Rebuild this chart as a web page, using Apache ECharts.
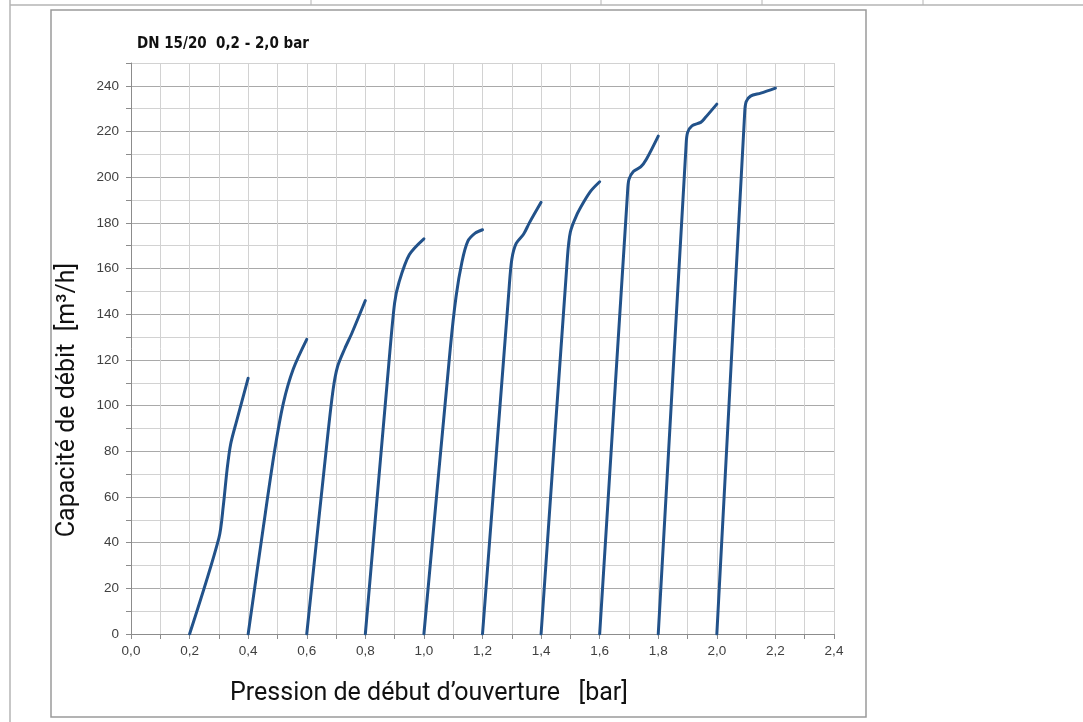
<!DOCTYPE html>
<html>
<head>
<meta charset="utf-8">
<script src="https://cdn.jsdelivr.net/npm/echarts@6/dist/echarts.min.js"></script>
<style>
  html, body { margin: 0; padding: 0; background: #fff; }
  #chart { width: 1083px; height: 722px; }
</style>
</head>
<body>
<div id="chart"></div>
<script>
// Opening pressure [bar] vs. flow capacity [m³/h], one curve per set pressure
const curve02 = [[0.2, 0], [0.3, 42], [0.315, 56], [0.328, 72], [0.34, 83], [0.36, 93], [0.4, 112]];
const curve04 = [[0.4, 0], [0.452, 47], [0.49, 80], [0.52, 101], [0.554, 116], [0.6, 129]];
const curve06 = [[0.6, 0], [0.67, 85], [0.69, 107], [0.705, 117], [0.73, 125], [0.755, 132], [0.8, 146]];
const curve08 = [[0.8, 0], [0.88, 118], [0.9, 145], [0.915, 154], [0.95, 166], [1.0, 173]];
const curve10 = [[1.0, 0], [1.09, 125], [1.11, 148], [1.13, 163], [1.15, 172], [1.175, 175.5], [1.2, 177]];
const curve12 = [[1.2, 0], [1.29, 150], [1.3, 164], [1.315, 171], [1.34, 175], [1.36, 180], [1.4, 189]];
const curve14 = [[1.4, 0], [1.49, 165], [1.5, 176], [1.52, 183], [1.545, 189], [1.57, 194], [1.6, 198]];
const curve16 = [[1.6, 0], [1.695, 193], [1.7, 199], [1.715, 202.5], [1.74, 204.5], [1.76, 208], [1.8, 218]];
const curve18 = [[1.8, 0], [1.895, 214], [1.9, 219.5], [1.915, 222.5], [1.945, 224], [1.96, 226], [2.0, 232]];
const curve20 = [[2.0, 0], [2.095, 228], [2.1, 233], [2.115, 235.5], [2.15, 236.8], [2.2, 239]];

const curves = [curve02, curve04, curve06, curve08, curve10, curve12, curve14, curve16, curve18, curve20];

const chartTitle = 'DN 15/20  0,2 - 2,0 bar';
const xTitle = 'Pression de début d\u2019ouverture   [bar]';
const yTitle = 'Capacité de débit  [m³/h]';

const xMin = 0, xMax = 2.4, xStep = 0.1;
const yMin = 0, yMax = 250, yStep = 10;

const lineColor = '#22528a';
const labelFont = { fontFamily: 'Liberation Sans, Arial, sans-serif', fontSize: 13.5, color: '#404040' };

const chart = echarts.init(document.getElementById('chart'), null, { renderer: 'canvas' });

chart.setOption({
  animation: false,
  backgroundColor: '#ffffff',
  grid: { left: 131, right: 249, top: 63, bottom: 88, containLabel: false },
  xAxis: {
    type: 'value',
    min: xMin, max: xMax, interval: xStep,
    axisLine: { show: true, lineStyle: { color: '#8c8c8c', width: 1 } },
    axisTick: { show: true, length: 5, lineStyle: { color: '#8c8c8c' } },
    axisLabel: Object.assign({}, labelFont, {
      margin: 10,
      formatter: v => {
        const k = Math.round(v * 10);
        return k % 2 === 0 ? (k / 10).toFixed(1).replace('.', ',') : '';
      }
    }),
    splitLine: { show: true, lineStyle: { color: '#d2d2d2', width: 1 } }
  },
  yAxis: {
    type: 'value',
    min: yMin, max: yMax, interval: yStep,
    axisLine: { show: true, lineStyle: { color: '#8c8c8c', width: 1 } },
    axisTick: { show: true, length: 5, lineStyle: { color: '#8c8c8c' } },
    axisLabel: Object.assign({}, labelFont, {
      margin: 12,
      formatter: v => (Math.round(v) % 20 === 0 ? String(Math.round(v)) : '')
    }),
    splitLine: { show: true, lineStyle: { color: ['#a9a9a9', '#d2d2d2'], width: 1 } }
  },
  series: curves.map((c, i) => ({
    type: 'line',
    name: 'c' + i,
    data: c,
    smooth: 0.3,
    showSymbol: false,
    symbol: 'none',
    lineStyle: { color: lineColor, width: 3, cap: 'round', join: 'round' },
    z: 5
  })),
  graphic: [
    // page table rules along the top and left
    { type: 'line', shape: { x1: 10, y1: 5, x2: 1083, y2: 5 }, style: { stroke: '#b4b4b4', lineWidth: 1.5 }, silent: true },
    { type: 'line', shape: { x1: 10, y1: 0, x2: 10, y2: 722 }, style: { stroke: '#b4b4b4', lineWidth: 1.5 }, silent: true },
    { type: 'line', shape: { x1: 311, y1: 0, x2: 311, y2: 5 }, style: { stroke: '#b4b4b4', lineWidth: 1 }, silent: true },
    { type: 'line', shape: { x1: 601, y1: 0, x2: 601, y2: 5 }, style: { stroke: '#b4b4b4', lineWidth: 1 }, silent: true },
    { type: 'line', shape: { x1: 762, y1: 0, x2: 762, y2: 5 }, style: { stroke: '#b4b4b4', lineWidth: 1 }, silent: true },
    { type: 'line', shape: { x1: 923, y1: 0, x2: 923, y2: 5 }, style: { stroke: '#b4b4b4', lineWidth: 1 }, silent: true },
    // chart frame
    { type: 'rect', shape: { x: 51, y: 10, width: 815, height: 707 }, style: { fill: 'none', stroke: '#9a9a9a', lineWidth: 1.5 }, silent: true, z: -1 },
    // titles
    {
      type: 'text', left: 137, top: 37,
      style: { text: chartTitle, font: 'bold 15px "Liberation Sans Narrow", "DejaVu Sans Condensed", sans-serif', fill: '#111' }
    },
    {
      type: 'text', x: 429, y: 694,
      style: { text: xTitle, font: '25px Roboto, "Noto Sans", sans-serif', fill: '#111', align: 'center', verticalAlign: 'middle' }
    },
    {
      type: 'text', x: 68, y: 400, rotation: Math.PI / 2,
      style: { text: yTitle, font: '25px Roboto, "Noto Sans", sans-serif', fill: '#111', align: 'center', verticalAlign: 'middle' }
    }
  ]
});
</script>
</body>
</html>
